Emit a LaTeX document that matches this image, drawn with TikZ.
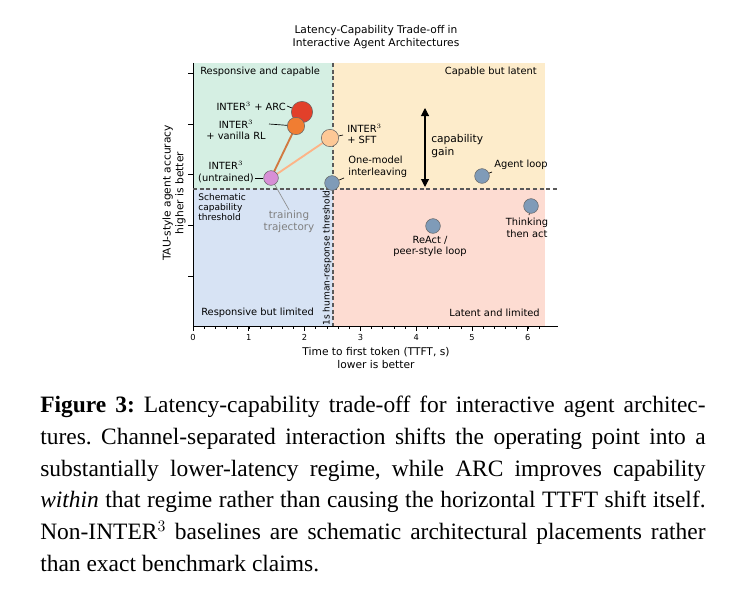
\documentclass[tikz,border=0pt]{standalone}
\usepackage{fontspec}
\setmainfont{Liberation Serif}
\newfontfamily\plotfont{DejaVu Sans}
\usetikzlibrary{arrows.meta,positioning}
\definecolor{qgreen}{RGB}{213,239,227}
\definecolor{qorange}{RGB}{253,236,203}
\definecolor{qblue}{RGB}{215,227,244}
\definecolor{qpink}{RGB}{253,220,210}
\definecolor{cblue}{RGB}{127,155,184}
\definecolor{carc}{RGB}{226,64,42}
\definecolor{crl}{RGB}{240,125,50}
\definecolor{csft}{RGB}{253,200,150}
\definecolor{cunt}{RGB}{215,143,214}
\tikzset{
  lbl/.style={font=\plotfont\fontsize{7.4}{8.6}\selectfont, inner sep=0.75pt, align=center},
  small/.style={font=\plotfont\fontsize{6.8}{7.8}\selectfont, inner sep=0.75pt, align=left},
  dot/.style={circle, draw=black!60, line width=0.4pt, inner sep=0pt},
  thr/.style={dash pattern=on 3pt off 2pt, line width=0.8pt, black!65},
  lead/.style={line width=0.5pt}
}
\begin{document}
\begin{tikzpicture}[x=0.75pt,y=0.75pt,yscale=-1,xscale=1]
\useasboundingbox (0,0) rectangle (738,592);

% quadrants
\fill[qgreen] (193,63) rectangle (333,189);
\fill[qorange] (333,63) rectangle (545,189);
\fill[qblue] (193,189) rectangle (333,326);
\fill[qpink] (333,189) rectangle (545,326);

% axes
\draw[line width=0.6pt] (193,63) -- (193,326) -- (558,326);
\foreach \y in {73,124,174,225,276} \draw[line width=0.6pt] (193,\y) -- (188,\y);
\foreach \i in {0,...,6} {
  \draw[line width=0.6pt] ({193+55.8*\i},326) -- ({193+55.8*\i},331);
  \node[lbl, font=\plotfont\fontsize{6.2}{7}\selectfont, anchor=north] at ({193+55.8*\i},333) {\i};
}
\foreach \i in {1,...,31} \draw[line width=0.4pt] ({193+11.16*\i},326) -- ({193+11.16*\i},329);

% thresholds
\draw[thr] (333,63) -- (333,326);
\draw[thr] (193,189) -- (558,189);

% titles
\node[lbl, font=\plotfont\fontsize{8}{9.5}\selectfont] at (376,37) {Latency-Capability Trade-off in\\Interactive Agent Architectures};
\node[lbl, font=\plotfont\fontsize{8}{9.5}\selectfont] at (376,358) {Time to first token (TTFT, s)\\lower is better};
\node[lbl, font=\plotfont\fontsize{8}{9.5}\selectfont, rotate=90] at (174,193) {TAU-style agent accuracy\\higher is better};

% quadrant labels
\node[lbl, anchor=west] at (199,72) {Responsive and capable};
\node[lbl, anchor=east] at (538,72) {Capable but latent};
\node[lbl, anchor=west] at (200,313) {Responsive but limited};
\node[lbl, anchor=east] at (541,313) {Latent and limited};
\node[small, anchor=north west] at (197,192) {Schematic\\capability\\threshold};
\node[small, rotate=90] at (327,258) {1s human-response threshold};

% trajectory
\coordinate (untp) at (271,178);
\coordinate (rlp) at (296,126);
\coordinate (sftp) at (330,138);
\draw[crl!85!black!90, line width=1.4pt] (untp) -- (rlp);
\draw[csft!90!red, line width=1.4pt] (untp) -- (sftp);
\node[lbl, text=black!50, font=\plotfont\fontsize{7.8}{9}\selectfont] (traj) at (289,222) {training\\trajectory};
\draw[black!45, lead] (untp) -- (traj.north);

% points
\node[dot, fill=carc, minimum size=16pt] (arc) at (302,112) {};
\node[dot, fill=crl, minimum size=13pt] (rl) at (rlp) {};
\node[dot, fill=csft, minimum size=13pt] (sft) at (sftp) {};
\node[dot, fill=cunt, minimum size=11pt] (unt) at (untp) {};
\node[dot, fill=cblue, minimum size=11pt] (one) at (332,183) {};
\node[dot, fill=cblue, minimum size=11pt] (agent) at (482,176) {};
\node[dot, fill=cblue, minimum size=11pt] (react) at (433,226) {};
\node[dot, fill=cblue, minimum size=11pt] (think) at (531,206) {};

% point labels
\node[lbl, anchor=east] (arcl) at (287,106) {INTER$^3$ + ARC};
\node[lbl, anchor=east] (rll) at (267,130) {INTER$^3$\\+ vanilla RL};
\node[lbl, anchor=west, align=left] (sftl) at (346,134) {INTER$^3$\\+ SFT};
\node[lbl, anchor=east] (untl) at (255,172) {INTER$^3$\\(untrained)};
\node[lbl, anchor=west, align=left] (onel) at (347,167) {One-model\\interleaving};
\node[lbl, anchor=west] (agentl) at (493,165) {Agent loop};
\node[lbl, anchor=north] (reactl) at (430,235) {ReAct /\\peer-style loop};
\node[lbl, anchor=north] (thinkl) at (527,217) {Thinking\\then act};
\draw[lead] (arcl.east) -- (arc);
\draw[lead] (rll.east |- rl) ++(2,-2) -- (rl);
\draw[lead] (sft) -- ++(13,-3);
\draw[lead] (untl.east |- unt) -- (unt);
\draw[lead] (one) -- ++(12,-5);
\draw[lead] (agent) -- ++(10,-4);
\draw[lead] (react) -- ++(-3,7);
\draw[lead] (think) -- ++(-2,9);

% capability gain
\coordinate (gtop) at (425,108);
\coordinate (gbot) at (425,187);
\draw[{Triangle[length=6pt,width=6pt]}-{Triangle[length=6pt,width=6pt]}, line width=0.8pt] (gtop) -- (gbot);
\node[lbl, anchor=west, align=left, font=\plotfont\fontsize{8}{9.5}\selectfont] at (430,146) {capability\\gain};

% caption
\node[anchor=north west, text width=499pt, align=justify, inner sep=0pt, font=\fontsize{17.6}{23.8}\selectfont] at (40,396)
{\frenchspacing\textbf{Figure 3:} Latency-capability trade-off for interactive agent architectures. Channel-separated interaction shifts the operating point into a substantially lower-latency regime, while ARC improves capability \emph{within} that regime rather than causing the horizontal TTFT shift itself. Non-INTER$^3$ baselines are schematic architectural placements rather than exact benchmark claims.};
\end{tikzpicture}
\end{document}
